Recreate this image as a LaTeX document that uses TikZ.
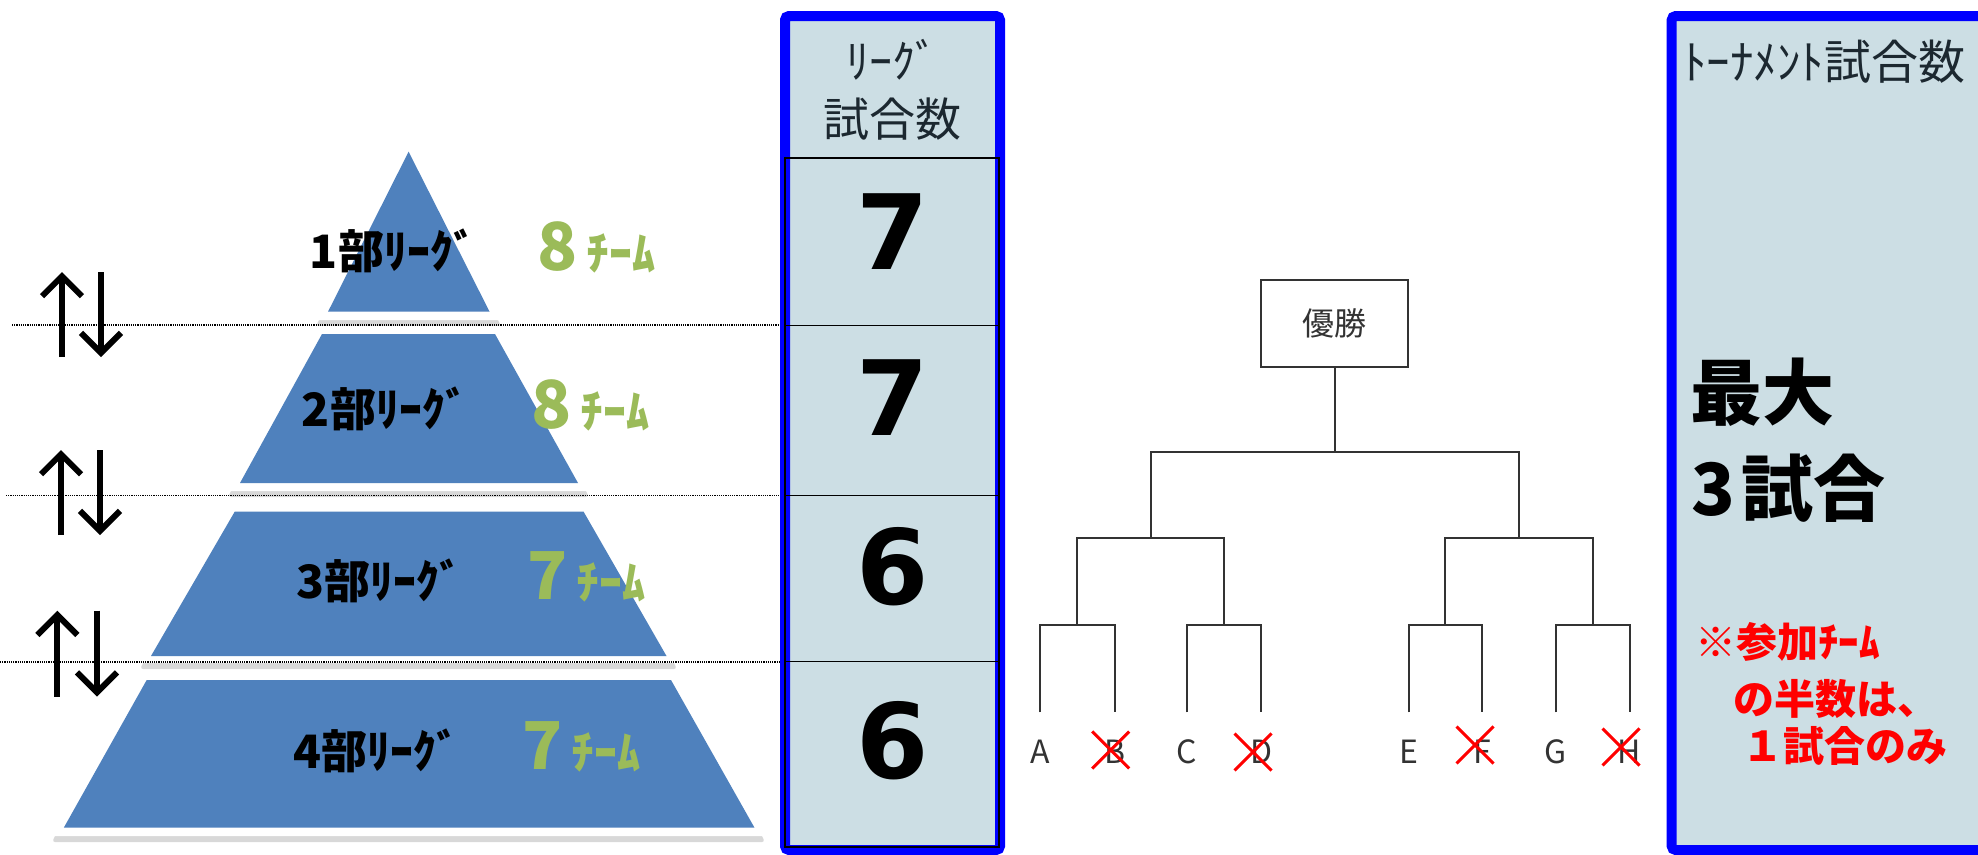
\documentclass[tikz,border=0pt]{standalone}
\usepackage{fontspec}
\newfontfamily\jp{Noto Sans CJK JP}
\newfontfamily\dvs{DejaVu Sans}
\usetikzlibrary{arrows.meta,shadows,shapes.misc}
\definecolor{pyrblue}{HTML}{4F81BD}
\definecolor{teamgreen}{HTML}{9BBB59}
\definecolor{colfill}{HTML}{CCDEE4}
\definecolor{frameblue}{HTML}{0000FF}
\definecolor{brk}{HTML}{333333}
\definecolor{hdr}{HTML}{1C2830}
\definecolor{notered}{HTML}{FF0000}
\newcommand{\fsz}[2]{\fontsize{#1}{#2}\selectfont}
\tikzset{
  tierout/.style={fill=white, rounded corners=3pt, drop shadow={opacity=0.3, shadow xshift=0pt, shadow yshift=-6pt}},
  tierin/.style={fill=pyrblue},
  leaguelbl/.style={inner sep=0pt, text=black, font=\jp\bfseries\fsz{46}{50}},
  teamcnt/.style={inner sep=0pt, anchor=base west, text=teamgreen, font=\jp\bfseries},
  sepline/.style={densely dotted, line width=1.2pt, black},
  updown/.style={line width=6pt, -{Straight Barb[length=20pt, width=40pt]}},
  frame/.style={draw=frameblue, line width=10pt, fill=colfill, rounded corners=4pt},
  rowline/.style={black, line width=1.5pt},
  hdrtxt/.style={inner sep=0pt, text=hdr, font=\jp\fsz{46}{58}, align=center},
  games/.style={inner sep=0pt, anchor=base, font=\dvs\bfseries\fsz{104}{110}},
  bline/.style={brk, line width=2pt},
  leaf/.style={inner sep=0pt, text=brk, font=\jp\fsz{32}{36}},
  loser/.style={cross out, draw=notered, line width=3pt, minimum width=34pt, minimum height=34pt, inner sep=0pt},
  big/.style={inner sep=0pt, anchor=base west, font=\jp\bfseries\fsz{72}{80}},
  note/.style={inner sep=0pt, anchor=base west, text=notered, font=\jp\bfseries\fsz{41}{48}},
}
\begin{document}
\begin{tikzpicture}[x=1pt,y=-1pt]
\useasboundingbox (0,0) rectangle (1978,854);
\clip (0,0) rectangle (1978,854);
\fill[white] (0,0) rectangle (1978,854);

% ---------- pyramid ----------
\path[tierout] (408.6,139) -- (501,320) -- (316,320) -- cycle;
\path[tierin] (408.6,151.7) -- (489.6,311.7) -- (328,311.7) -- cycle;
\path[tierout] (313,326) -- (504,326) -- (589,491) -- (228,491) -- cycle;
\path[tierin] (322,334) -- (495,334) -- (578,483) -- (240,483) -- cycle;
\path[tierout] (224,504) -- (594,504) -- (677,663) -- (140,663) -- cycle;
\path[tierin] (234.7,511.7) -- (583.6,511.7) -- (666.5,656) -- (151,656) -- cycle;
\path[tierout] (136,672) -- (682,672) -- (765,836) -- (52,836) -- cycle;
\path[tierin] (146.7,680) -- (671,680) -- (754.5,827.7) -- (63.8,827.7) -- cycle;

% separators
\draw[sepline] (12,325) -- (786,325);
\draw[sepline] (6,495.6) -- (786,495.6);
\draw[sepline] (0,662) -- (786,662);

% league labels
\node[leaguelbl] (lg1) at (393,251) {1部ﾘｰｸﾞ};
\node[leaguelbl] (lg2) at (385,409) {2部ﾘｰｸﾞ};
\node[leaguelbl] (lg3) at (379.5,581) {3部ﾘｰｸﾞ};
\node[leaguelbl] (lg4) at (376.5,751) {4部ﾘｰｸﾞ};
\node[teamcnt] (tc1) at (537,270) {{\fsz{66}{70}8}\hspace{9pt}{\fsz{46}{50}ﾁｰﾑ}};
\node[teamcnt] (tc2) at (531,428) {{\fsz{66}{70}8}\hspace{9pt}{\fsz{46}{50}ﾁｰﾑ}};
\node[teamcnt] (tc3) at (527,599) {{\fsz{66}{70}7}\hspace{9pt}{\fsz{46}{50}ﾁｰﾑ}};
\node[teamcnt] (tc4) at (522,769) {{\fsz{66}{70}7}\hspace{9pt}{\fsz{46}{50}ﾁｰﾑ}};

% promotion / relegation arrows
\coordinate (u1b) at (62,357);   \coordinate (u1t) at (62,272);
\coordinate (d1t) at (101,272);  \coordinate (d1b) at (101,357);
\coordinate (u2b) at (61,535);   \coordinate (u2t) at (61,450);
\coordinate (d2t) at (100,450);  \coordinate (d2b) at (100,535);
\coordinate (u3b) at (57.4,696.7); \coordinate (u3t) at (57.4,610.7);
\coordinate (d3t) at (97,610.7);  \coordinate (d3b) at (97,696.7);
\draw[updown] (u1b) -- (u1t);
\draw[updown] (d1t) -- (d1b);
\draw[updown] (u2b) -- (u2t);
\draw[updown] (d2t) -- (d2b);
\draw[updown] (u3b) -- (u3t);
\draw[updown] (d3t) -- (d3b);

% ---------- league games column ----------
\draw[frame] (785,16) rectangle (1000,850);
\draw[rowline] (785,158) rectangle (999,847);
\draw[rowline] (785,325.7) -- (999,325.7);
\draw[rowline] (785,495.6) -- (999,495.6);
\draw[rowline] (785,661.7) -- (999,661.7);
\node[hdrtxt] (lghdr) at (892,90) {ﾘｰｸﾞ\\試合数};
\node[games] (g1) at (893,269.6) {7};
\node[games] (g2) at (893,435.7) {7};
\node[games] (g3) at (893,604.5) {6};
\node[games] (g4) at (893,778.8) {6};

% ---------- tournament bracket ----------
\node[draw=brk, line width=2pt, minimum width=147pt, minimum height=87pt, inner sep=0pt,
      text=brk, font=\jp\fsz{32}{36}] (win) at (1334.8,323.2) {優勝};
\coordinate (f) at (1334.8,452);
\coordinate (s1) at (1150.9,538);  \coordinate (s2) at (1518.7,538);
\coordinate (q1) at (1077.3,624.5); \coordinate (q2) at (1223.8,624.5);
\coordinate (q3) at (1445.2,624.5); \coordinate (q4) at (1592.6,624.5);
\coordinate (pA) at (1040,712.4);  \coordinate (pB) at (1114.7,712.4);
\coordinate (pC) at (1186.6,712.4); \coordinate (pD) at (1261,712.4);
\coordinate (pE) at (1408.5,712.4); \coordinate (pF) at (1482,712.4);
\coordinate (pG) at (1555.8,712.4); \coordinate (pH) at (1629.5,712.4);
\draw[bline] (win.south) -- (f);
\draw[bline] (s1) |- (f) -| (s2);
\draw[bline] (q1) |- (s1) -| (q2);
\draw[bline] (q3) |- (s2) -| (q4);
\draw[bline] (pA) |- (q1) -| (pB);
\draw[bline] (pC) |- (q2) -| (pD);
\draw[bline] (pE) |- (q3) -| (pF);
\draw[bline] (pG) |- (q4) -| (pH);
\node[leaf] (A) at (1040,752) {A};
\node[leaf] (B) at (1114.7,752) {B};
\node[leaf] (C) at (1186.6,752) {C};
\node[leaf] (D) at (1261,752) {D};
\node[leaf] (E) at (1408.5,752) {E};
\node[leaf] (F) at (1482,752) {F};
\node[leaf] (G) at (1555.8,752) {G};
\node[leaf] (H) at (1629.5,752) {H};
\node[loser] (xB) at (1110.7,750) {};
\node[loser] (xD) at (1253,752) {};
\node[loser] (xF) at (1475,745) {};
\node[loser] (xH) at (1621,747) {};

% ---------- tournament games column ----------
\draw[frame] (1671.7,16) rectangle (2010,850);
\node[hdrtxt, font=\jp\fsz{47}{58}] (tnhdr) at (1824,62) {ﾄｰﾅﾒﾝﾄ試合数};
\node[big] (max1) at (1690,419) {最大};
\node[big] (max2) at (1691,515) {3\kern6pt試合};
\node[note] (n1) at (1695,657) {※参加ﾁｰﾑ};
\node[note] (n2) at (1733,714) {の半数は、};
\node[note] (n3) at (1742,761) {１試合のみ};
\end{tikzpicture}
\end{document}
